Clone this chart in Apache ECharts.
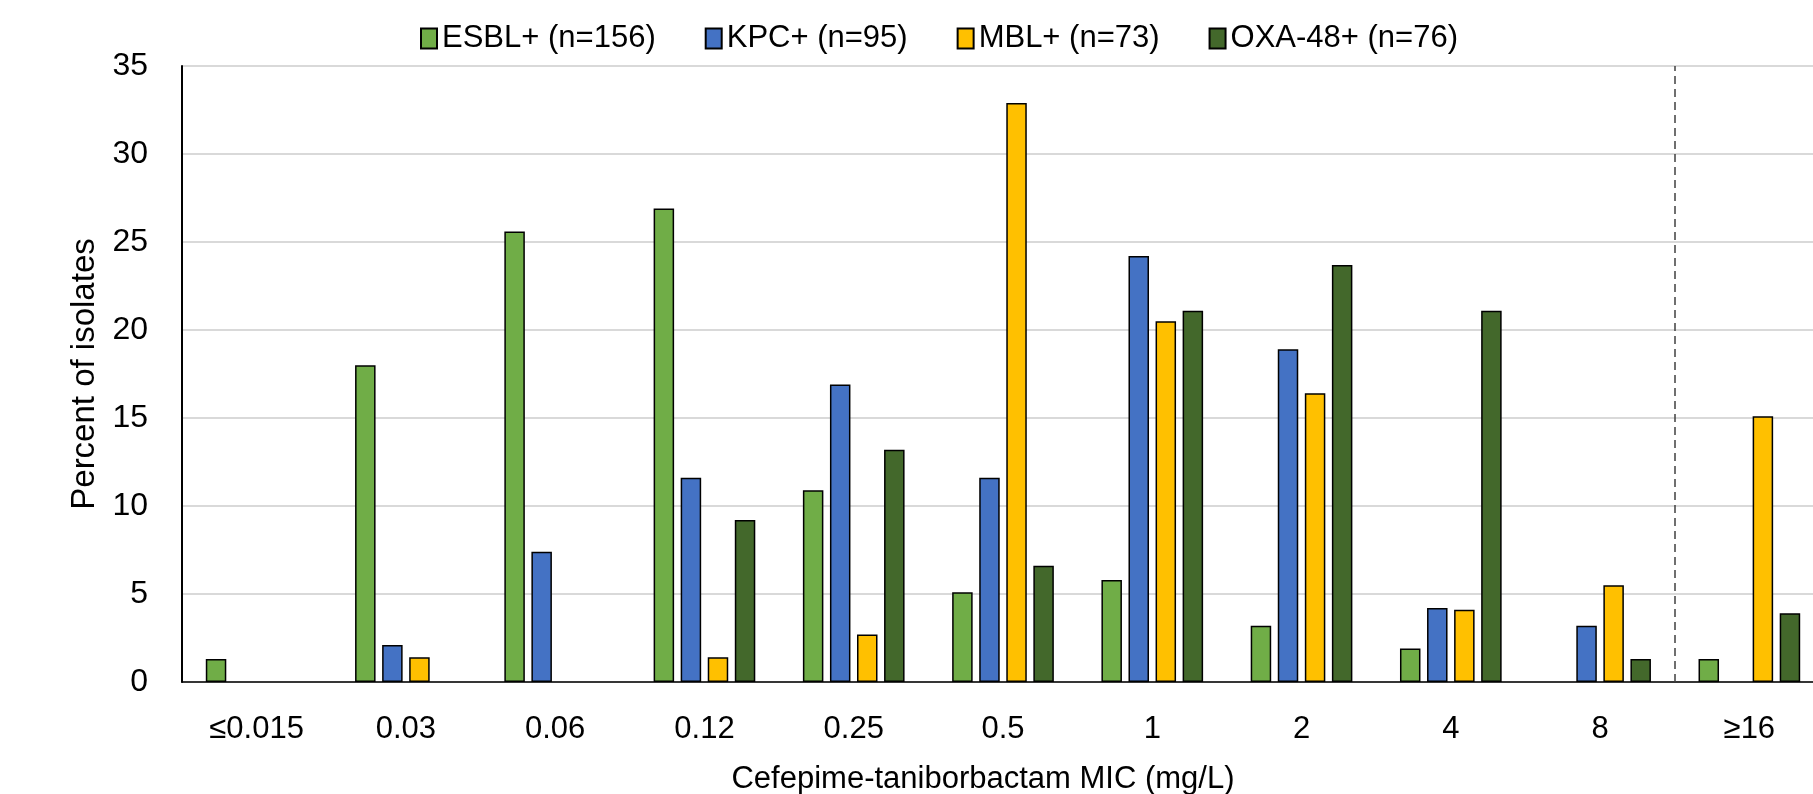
<!DOCTYPE html>
<html>
<head>
<meta charset="utf-8">
<script src="https://cdn.jsdelivr.net/npm/echarts@6/dist/echarts.min.js"></script>
<style>
  html, body { margin: 0; padding: 0; background: #fff; }
  #chart { width: 1813px; height: 794px; }
</style>
</head>
<body>
<div id="chart"></div>
<script>
// MIC categories (x axis)
const categories = ["≤0.015", "0.03", "0.06", "0.12", "0.25", "0.5", "1", "2", "4", "8", "≥16"];

// percent of isolates per group, null = no bar
const esbl = [1.3, 18.0, 25.6, 26.9, 10.9, 5.1, 5.8, 3.2, 1.9, null, 1.3];
const kpc = [null, 2.1, 7.4, 11.6, 16.9, 11.6, 24.2, 18.9, 4.2, 3.2, null];
const mbl = [null, 1.4, null, 1.4, 2.7, 32.9, 20.5, 16.4, 4.1, 5.5, 15.1];
const oxa = [null, null, null, 9.2, 13.2, 6.6, 21.1, 23.7, 21.1, 1.3, 3.9];

const seriesNames = ["ESBL+ (n=156)", "KPC+ (n=95)", "MBL+ (n=73)", "OXA-48+ (n=76)"];
const seriesColors = ["#70AD47", "#4472C4", "#FFC000", "#43682B"];

// y axis ticks
const yMin = 0;
const yMax = 35;
const yStep = 5;

// breakpoint line sits on the boundary before the last category
const breakpointAt = 10;

const font = '"Liberation Sans", Arial, sans-serif';

const chart = echarts.init(document.getElementById("chart"));

const barSeries = [esbl, kpc, mbl, oxa].map((values, i) => ({
  name: seriesNames[i],
  type: "bar",
  data: values,
  barWidth: 20.5,
  barGap: "32%",
  itemStyle: {
    color: seriesColors[i],
    borderColor: "#000",
    borderWidth: 1.5,
  },
}));

const option = {
  animation: false,
  textStyle: { fontFamily: font },
  legend: {
    left: 420,
    top: 23,
    padding: 0,
    icon: "rect",
    itemWidth: 16,
    itemHeight: 20,
    itemGap: 49,
    data: seriesNames,
    textStyle: { fontFamily: font, fontSize: 31, color: "#000" },
  },
  grid: {
    left: 182,
    top: 66,
    width: 1642,
    height: 616,
    outerBoundsMode: "none", // keep the plot where it is, name may touch the bottom edge
  },
  xAxis: [
    {
      type: "category",
      data: categories,
      name: "Cefepime-taniborbactam MIC (mg/L)",
      nameLocation: "middle",
      nameGap: 82,
      nameTextStyle: { fontFamily: font, fontSize: 31, color: "#000", padding: [0, 40, 0, 0] },
      axisLine: { lineStyle: { color: "#000", width: 1.5 } },
      axisTick: { inside: true, length: 12, lineStyle: { color: "#000", width: 1.5 } },
      axisLabel: { margin: 32, fontFamily: font, fontSize: 31, color: "#000" },
      splitLine: { show: false },
    },
    {
      // hidden helper axis to put the dashed line on a category boundary
      type: "value",
      min: 0,
      max: categories.length,
      show: false,
    },
  ],
  yAxis: {
    type: "value",
    min: yMin,
    max: yMax,
    interval: yStep,
    name: "Percent of isolates",
    nameLocation: "middle",
    nameRotate: 90,
    nameGap: 76,
    nameTextStyle: { fontFamily: font, fontSize: 33, color: "#000" },
    axisLine: { show: true, lineStyle: { color: "#000", width: 2 } },
    axisTick: { show: false },
    axisLabel: { margin: 34, fontFamily: font, fontSize: 32, color: "#000" },
    splitLine: { lineStyle: { color: "#D9D9D9", width: 2 } },
  },
  series: [
    ...barSeries,
    {
      type: "line",
      xAxisIndex: 1,
      data: [],
      silent: true,
      markLine: {
        silent: true,
        symbol: "none",
        label: { show: false },
        lineStyle: { color: "#404040", width: 1.5, type: [8, 5] },
        data: [{ xAxis: breakpointAt }],
      },
    },
  ],
};

chart.setOption(option);
</script>
</body>
</html>
